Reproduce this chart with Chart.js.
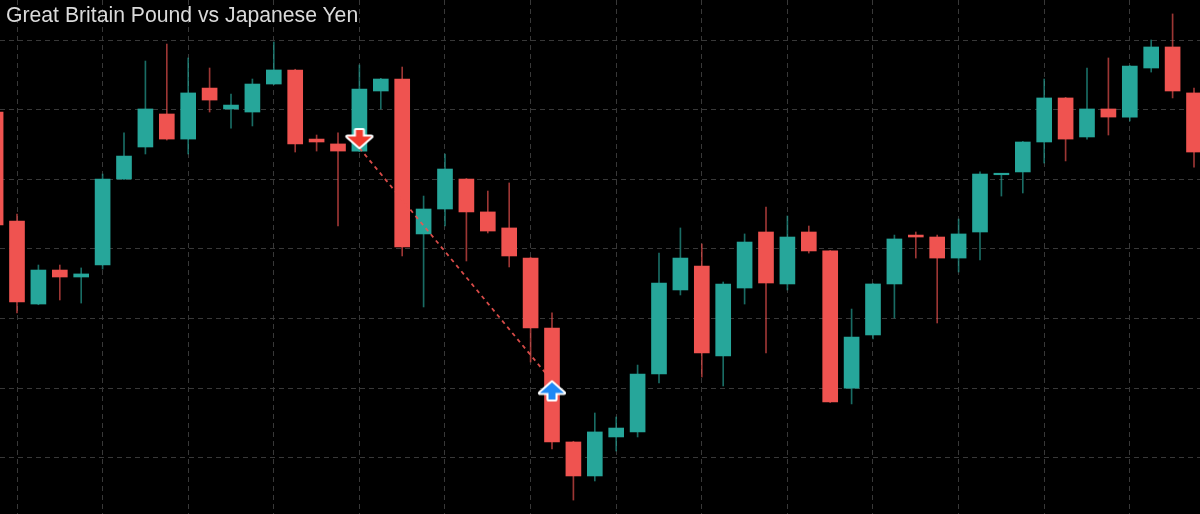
<!DOCTYPE html>
<html>
<head>
<meta charset="utf-8">
<script src="https://cdn.jsdelivr.net/npm/chart.js"></script>
<style>
  html, body { margin: 0; padding: 0; background: #000; }
  #wrap { position: relative; width: 1200px; height: 514px; overflow: hidden; background: #000; }
  #title { position: absolute; left: 6px; top: 4px; z-index: 2;
           font: 21.2px/21px "Liberation Sans", Arial, sans-serif; color: #dadada; white-space: nowrap; }
</style>
</head>
<body>
<div id="wrap">
  <div id="title">Great Britain Pound vs Japanese Yen</div>
  <canvas id="myChart"></canvas>
</div>

<script>
// GBP/JPY candles, one entry per session
var opens = [
  151.483, 150.701, 150.105, 150.349, 150.299, 150.385, 151.002, 151.232, 151.469, 151.289,
  151.655, 151.505, 151.483, 151.684, 151.785, 151.289, 151.254, 151.203, 151.634, 151.720,
  150.608, 150.787, 151.002, 150.766, 150.651, 150.435, 149.933, 149.115, 148.871, 149.151,
  149.187, 149.603, 150.206, 150.378, 149.732, 150.220, 150.622, 150.249, 150.622, 150.486,
  149.502, 149.883, 150.249, 150.600, 150.586, 150.435, 150.622, 151.033, 151.053, 151.268,
  151.584, 151.304, 151.505, 151.447, 151.799, 151.950, 151.620
];
var highs = [
  151.490, 150.751, 150.385, 150.385, 150.364, 151.038, 151.333, 151.849, 151.971, 151.871,
  151.799, 151.612, 151.720, 151.986, 151.790, 151.318, 151.333, 151.821, 151.725, 151.806,
  150.880, 151.182, 151.006, 150.916, 150.974, 150.440, 150.041, 149.120, 149.323, 149.294,
  149.667, 150.471, 150.651, 150.536, 150.263, 150.608, 150.801, 150.737, 150.665, 150.490,
  150.069, 150.252, 150.600, 150.622, 150.600, 150.715, 151.053, 151.040, 151.272, 151.720,
  151.588, 151.799, 151.871, 151.817, 152.000, 152.187, 151.655
];
var lows = [
  150.660, 150.041, 150.100, 150.134, 150.112, 150.356, 151.000, 151.182, 151.282, 151.182,
  151.483, 151.368, 151.383, 151.680, 151.196, 151.203, 150.665, 151.198, 151.505, 150.450,
  150.084, 150.665, 150.414, 150.615, 150.371, 149.689, 149.065, 148.698, 148.835, 149.050,
  149.151, 149.538, 150.170, 149.581, 149.517, 150.105, 149.754, 150.206, 150.471, 149.398,
  149.388, 149.854, 150.005, 150.435, 149.969, 150.335, 150.421, 150.880, 150.902, 151.117,
  151.132, 151.289, 151.318, 151.419, 151.770, 151.584, 151.088
];
var closes = [
  150.672, 150.120, 150.349, 150.299, 150.321, 151.002, 151.167, 151.505, 151.289, 151.620,
  151.569, 151.533, 151.684, 151.785, 151.254, 151.268, 151.203, 151.648, 151.720, 150.514,
  150.787, 151.074, 150.766, 150.629, 150.450, 149.933, 149.115, 148.871, 149.187, 149.215,
  149.603, 150.256, 150.435, 149.754, 150.249, 150.550, 150.256, 150.586, 150.486, 149.402,
  149.868, 150.249, 150.572, 150.586, 150.435, 150.608, 151.038, 151.040, 151.268, 151.584,
  151.289, 151.505, 151.447, 151.813, 151.950, 151.634, 151.196
];

// trade signals: sell arrow then buy arrow, joined by a dashed line at the tips
var signalSessions = [17, 26];
var signalPrices   = [151.293, 149.481];
var signalTypes    = ['sell', 'buy'];
var tipPrices      = [151.225, 149.553];

// grid positions
var gridSessions = [1, 5, 9, 13, 17, 21, 25, 29, 33, 37, 41, 45, 49, 53];
var gridPrices   = [149.0, 149.5, 150.0, 150.5, 151.0, 151.5, 152.0];

var UP = '#26a69a', DOWN = '#ef5350';
var UP_WICK = 'rgba(38,166,154,0.65)', DOWN_WICK = 'rgba(239,83,80,0.65)';

function makeArrow(color, down) {
  var c = document.createElement('canvas');
  c.width = 32; c.height = 25;
  var g = c.getContext('2d');
  // inner shape 24 x 17, shaft on top, head pointing down
  var pts = [[8.5,0],[15.5,0],[15.5,6.5],[24,6.5],[12,17],[0,6.5],[8.5,6.5]];
  g.beginPath();
  pts.forEach(function(p, k) {
    var x = p[0] + 4, y = down ? p[1] + 4 : 21 - p[1];
    if (k) g.lineTo(x, y); else g.moveTo(x, y);
  });
  g.closePath();
  g.lineJoin = 'round';
  g.lineWidth = 4.2;
  g.strokeStyle = '#ffffff';
  g.stroke();
  g.fillStyle = color;
  g.fill();
  return c;
}
var sellArrow = makeArrow('#f23b2e', true);
var buyArrow = makeArrow('#1e88f5', false);

var bodies = [], wicks = [], bodyColors = [], wickColors = [];
opens.forEach(function(o, i) {
  var up = closes[i] >= o;
  bodies.push({x: i, y: [o, closes[i]]});
  wicks.push({x: i, y: [lows[i], highs[i]]});
  bodyColors.push(up ? UP : DOWN);
  wickColors.push(up ? UP_WICK : DOWN_WICK);
});

var signals = signalSessions.map(function(s, k) { return {x: s, y: signalPrices[k]}; });
var signalStyles = signalTypes.map(function(t) { return t === 'sell' ? sellArrow : buyArrow; });
var tradeLine = signalSessions.map(function(s, k) { return {x: s, y: tipPrices[k]}; });

// x: 21.4px per session, session 1 sits at 17px
var xMin = 4.4 / 21.4;
var xMax = xMin + 1200 / 21.4;
// y: 69.67px per 0.5, 152.0 sits at 40px
var pxPerUnit = 139.33;
var yMax = 152.0 + 40 / pxPerUnit;
var yMin = 152.0 - 474 / pxPerUnit;

var gridColor = '#383838';

var myChart = new Chart(document.getElementById('myChart'), {
  type: 'bar',
  data: {
    datasets: [
      { type: 'line', data: signals, showLine: false, pointStyle: signalStyles,
        pointRadius: 12, order: 0 },
      { type: 'line', data: tradeLine, borderColor: 'rgba(239,83,80,0.9)', borderWidth: 1.8,
        borderDash: [4, 4], pointRadius: 0, fill: false, order: 1 },
      { type: 'bar', data: bodies, backgroundColor: bodyColors, borderWidth: 0,
        barThickness: 15, grouped: false, minBarLength: 1.5, order: 2 },
      { type: 'bar', data: wicks, backgroundColor: wickColors, borderWidth: 0,
        barThickness: 1, grouped: false, order: 3 }
    ]
  },
  options: {
    responsive: true,
    maintainAspectRatio: false,
    animation: false,
    layout: { padding: 0, autoPadding: false },
    plugins: { legend: { display: false }, tooltip: { enabled: false } },
    scales: {
      x: {
        type: 'linear', min: xMin, max: xMax, offset: false,
        grid: { color: gridColor, lineWidth: 1, drawTicks: false, offset: false },
        border: { display: false, dash: [5, 4] },
        ticks: { display: false },
        afterBuildTicks: function(scale) {
          scale.ticks = gridSessions.map(function(v) { return {value: v}; });
        }
      },
      y: {
        type: 'linear', min: yMin, max: yMax, beginAtZero: false,
        grid: { color: gridColor, lineWidth: 1, drawTicks: false },
        border: { display: false, dash: [5, 4] },
        ticks: { display: false },
        afterBuildTicks: function(scale) {
          scale.ticks = gridPrices.map(function(v) { return {value: v}; });
        }
      }
    }
  }
});
</script>
</body>
</html>
